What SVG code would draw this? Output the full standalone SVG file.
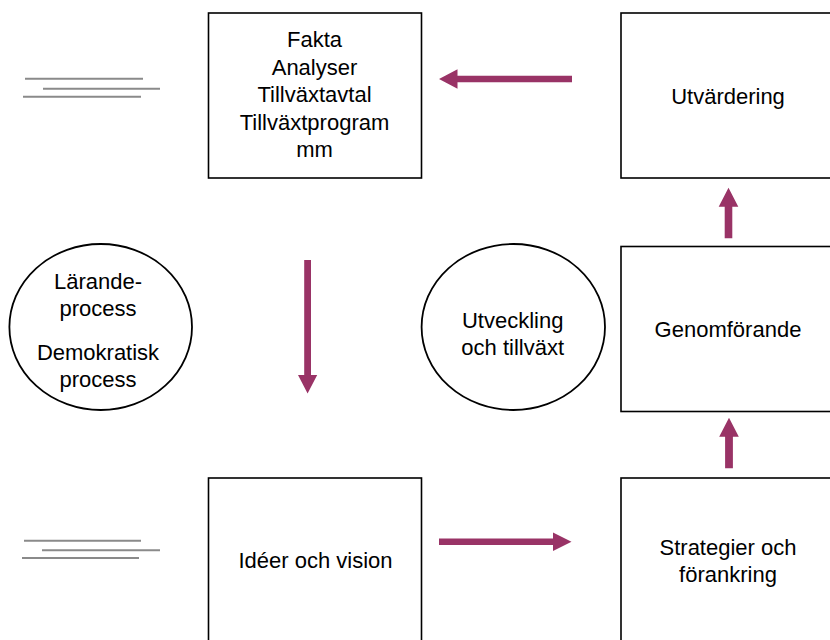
<svg xmlns="http://www.w3.org/2000/svg" width="830" height="640" viewBox="0 0 830 640">
<style>
.box{fill:#fff;stroke:#000;stroke-width:1.6}
.ell{fill:#fff;stroke:#000;stroke-width:1.8}
.t{font-family:"Liberation Sans",Arial,sans-serif;font-size:22px;fill:#000;text-anchor:middle}
.g{stroke:#8a8a8a;stroke-width:2}
.arr{fill:#993366}
</style>
<rect width="830" height="640" fill="#fff"/>
<g id="deco">
<line class="g" x1="25" y1="78.7" x2="143" y2="78.7"/>
<line class="g" x1="43" y1="88.7" x2="160" y2="88.7"/>
<line class="g" x1="23" y1="96.7" x2="141" y2="96.7"/>
<line class="g" x1="24" y1="540.7" x2="141" y2="540.7"/>
<line class="g" x1="42" y1="550.3" x2="160" y2="550.3"/>
<line class="g" x1="22" y1="558" x2="139" y2="558"/>
</g>
<g id="fakta">
<rect class="box" x="208.5" y="13" width="213" height="165"/>
<text class="t" x="314.5" y="47">Fakta</text>
<text class="t" x="314.5" y="74.5">Analyser</text>
<text class="t" x="314.5" y="102">Tillväxtavtal</text>
<text class="t" x="314.5" y="129.5">Tillväxtprogram</text>
<text class="t" x="314.5" y="157">mm</text>
</g>
<g id="utvardering">
<rect class="box" x="621" y="13" width="213" height="165"/>
<text class="t" x="728" y="103.5">Utvärdering</text>
</g>
<g id="genomforande">
<rect class="box" x="621" y="246.5" width="213" height="165"/>
<text class="t" x="728" y="337">Genomförande</text>
</g>
<g id="strategier">
<rect class="box" x="621" y="478" width="213" height="165"/>
<text class="t" x="728" y="554.5">Strategier och</text>
<text class="t" x="728" y="582">förankring</text>
</g>
<g id="ideer">
<rect class="box" x="208.5" y="478" width="213" height="165"/>
<text class="t" x="315.5" y="567.5">Idéer och vision</text>
</g>
<g id="larande">
<ellipse class="ell" cx="100.7" cy="327" rx="91.3" ry="83"/>
<text class="t" x="98" y="288.5">Lärande-</text>
<text class="t" x="98" y="316">process</text>
<text class="t" x="98" y="359.5">Demokratisk</text>
<text class="t" x="98" y="386.5">process</text>
</g>
<g id="utveckling">
<ellipse class="ell" cx="513.3" cy="327" rx="91.7" ry="83"/>
<text class="t" x="512.7" y="327.5">Utveckling</text>
<text class="t" x="512.7" y="355">och tillväxt</text>
</g>
<g id="connectors">
<polygon class="arr" points="572,75.8 457.5,75.8 457.5,69.3 439,79 457.5,88.7 457.5,82.2 572,82.2"/>
<polygon class="arr" points="304.2,260 311,260 311,375 317.2,375 307.6,393.5 298,375 304.2,375"/>
<polygon class="arr" points="439,538.5 553,538.5 553,532.5 571.5,541.7 553,550.9 553,544.9 439,544.9"/>
<polygon class="arr" points="725.1,468.3 732.9,468.3 732.9,436.7 738.8,436.7 729,417.7 719.2,436.7 725.1,436.7"/>
<polygon class="arr" points="724.7,238.3 732.3,238.3 732.3,206.7 738.3,206.7 728.5,187.7 718.7,206.7 724.7,206.7"/>
</g>
</svg>
